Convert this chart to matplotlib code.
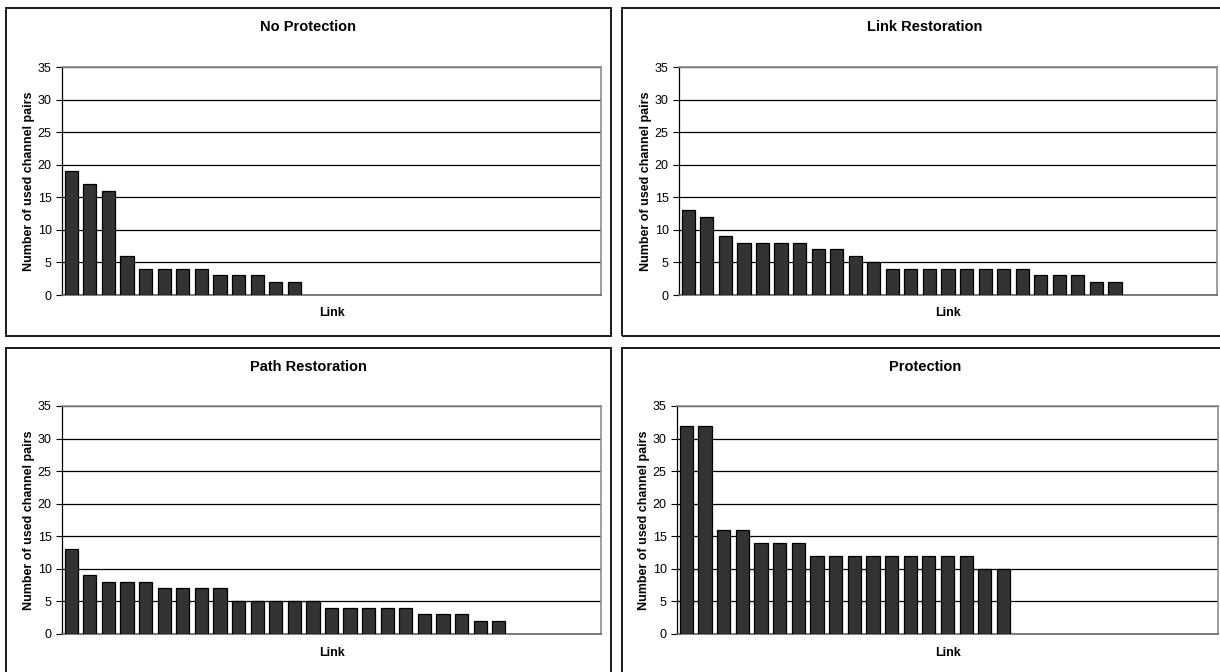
import matplotlib
matplotlib.use("Agg")
import matplotlib.pyplot as plt
from matplotlib.patches import Rectangle

plt.rcParams['font.family'] = ['Liberation Sans', 'DejaVu Sans']

# Used channel pairs per link, sorted in descending order, for each scheme
no_protection = [19, 17, 16, 6, 4, 4, 4, 4, 3, 3, 3, 2, 2]
link_restoration = [13, 12, 9, 8, 8, 8, 8, 7, 7, 6, 5, 4, 4, 4, 4, 4, 4, 4, 4,
                    3, 3, 3, 2, 2]
path_restoration = [13, 9, 8, 8, 8, 7, 7, 7, 7, 5, 5, 5, 5, 5, 4, 4, 4, 4, 4,
                    3, 3, 3, 2, 2]
protection = [32, 32, 16, 16, 14, 14, 14, 12, 12, 12, 12, 12, 12, 12, 12, 12,
              10, 10]

titles = ["No Protection", "Link Restoration", "Path Restoration", "Protection"]
series = [no_protection, link_restoration, path_restoration, protection]
n_links = 29
y_ticks = [0, 5, 10, 15, 20, 25, 30, 35]
y_label = "Number of used channel pairs"
x_label = "Link"

W, H = 1220, 672
fig = plt.figure(figsize=(W / 100, H / 100), dpi=100)


def frac_box(x0, y0, x1, y1):
    """Pixel box (top-left origin) -> figure-fraction [left, bottom, width, height]."""
    return [x0 / W, 1 - y1 / H, (x1 - x0) / W, (y1 - y0) / H]


# chart frames and plot areas in pixels: (frame box, plot box)
layout = [
    ((6, 8, 611, 336), (62, 67, 601, 295)),
    ((622, 8, 1228, 336), (679, 67, 1217, 295)),
    ((6, 348, 611, 677), (62, 406, 601, 634)),
    ((622, 348, 1228, 677), (677, 406, 1218, 634)),
]

for title, values, (frame, plot) in zip(titles, series, layout):
    fx0, fy0, fx1, fy1 = frame
    fb = frac_box(*frame)
    fig.patches.append(Rectangle((fb[0], fb[1]), fb[2], fb[3],
                                 transform=fig.transFigure, fill=False,
                                 edgecolor="#1a1a1a", linewidth=1.4, zorder=0))

    ax = fig.add_axes(frac_box(*plot))
    x = list(range(len(values)))
    ax.bar(x, values, width=0.71, color="#333333", edgecolor="#000000",
           linewidth=0.9, zorder=3)
    ax.set_xlim(-0.5, n_links - 0.5)
    ax.set_ylim(0, 35)
    ax.set_yticks(y_ticks)
    ax.set_xticks([])
    ax.tick_params(axis="y", direction="out", length=4, width=0.8,
                   labelsize=9, pad=3.5, colors="#000000")
    ax.yaxis.grid(True, color="#000000", linewidth=0.9, zorder=1)
    ax.set_axisbelow(True)
    for side in ("top", "right"):
        ax.spines[side].set_color("#8c8c8c")
        ax.spines[side].set_linewidth(1.2)
    ax.spines["left"].set_color("#000000")
    ax.spines["left"].set_linewidth(0.9)
    ax.spines["bottom"].set_color("#666666")
    ax.spines["bottom"].set_linewidth(1.2)

    ax.set_ylabel(y_label, fontsize=9, fontweight="bold", labelpad=1.5)
    ax.set_xlabel(x_label, fontsize=9, fontweight="bold", labelpad=9)

    cx = (fx0 + min(fx1, 1228)) / 2
    fig.text(cx / W, 1 - (fy0 + 19) / H, title, ha="center", va="center",
             fontsize=10.5, fontweight="bold")

fig.savefig("out.png", dpi=100, facecolor="white")
